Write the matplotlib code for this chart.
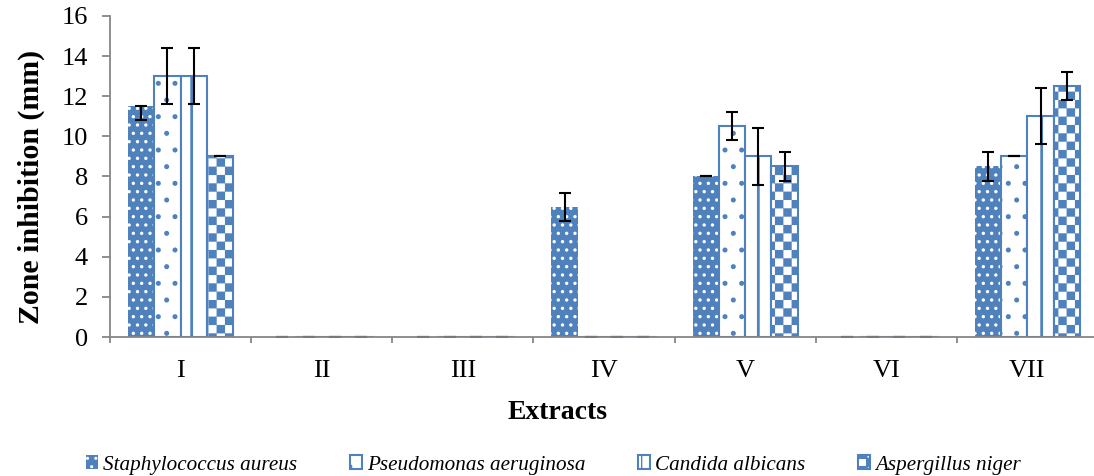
import numpy as np
import matplotlib
matplotlib.use("Agg")
import matplotlib.pyplot as plt
import matplotlib.hatch as mhatch
from matplotlib.path import Path

# Data
extracts = ["I", "II", "III", "IV", "V", "VI", "VII"]
species = ["Staphylococcus aureus", "Pseudomonas aeruginosa", "Candida albicans", "Aspergillus niger"]

staph = [11.5, 0, 0, 6.5, 8.0, 0, 8.5]
pseudo = [13.0, 0, 0, 0, 10.5, 0, 9.0]
candida = [13.0, 0, 0, 0, 9.0, 0, 11.0]
asper = [9.0, 0, 0, 0, 8.5, 0, 12.5]

staph_err_lo = [0.7, 0, 0, 0.7, 0.0, 0, 0.7]
staph_err_hi = [0.0, 0, 0, 0.7, 0.0, 0, 0.7]
pseudo_err = [1.4, 0, 0, 0, 0.7, 0, 0.0]
candida_err = [1.4, 0, 0, 0, 1.4, 0, 1.4]
asper_err = [0.0, 0, 0, 0, 0.7, 0, 0.7]

BLUE = "#4F81BD"
GRAY = "#868686"


# '*' hatch -> checkerboard (Excel "large checker board" look)
class CheckerHatch(mhatch.HatchPatternBase):
    def __init__(self, hatch, density):
        self.n = hatch.count("*") * 2 * density
        self.num_vertices = (self.n * self.n // 2) * 5

    def set_vertices_and_codes(self, vertices, codes):
        n = self.n
        s = 1.0 / n
        k = 0
        for i in range(n):
            for j in range(n):
                if (i + j) % 2:
                    continue
                x0, y0 = i * s, j * s
                vertices[k:k + 5] = [[x0, y0], [x0 + s, y0], [x0 + s, y0 + s], [x0, y0 + s], [x0, y0]]
                codes[k:k + 5] = [Path.MOVETO, Path.LINETO, Path.LINETO, Path.LINETO, Path.CLOSEPOLY]
                k += 5


mhatch._hatch_types[mhatch._hatch_types.index(mhatch.Stars)] = CheckerHatch

plt.rcParams["font.family"] = ["Liberation Serif", "DejaVu Serif"]

fig = plt.figure(figsize=(10.94, 4.76), dpi=100)
ax = fig.add_axes([110 / 1094, 139 / 476, 988 / 1094, 321 / 476])

x = np.arange(len(extracts))
w = 0.186
err_kw = dict(ecolor="black", elinewidth=1.5, capsize=4.2, capthick=1.5)

with plt.rc_context({"hatch.linewidth": 1.2}):
    b1 = ax.bar(x - 1.5 * w, staph, w, color=BLUE, edgecolor="white", linewidth=0,
                hatch="..", label=species[0],
                yerr=[staph_err_lo, staph_err_hi], error_kw=err_kw)
with plt.rc_context({"hatch.linewidth": 1.2}):
    b2 = ax.bar(x - 0.5 * w, pseudo, w, color="white", edgecolor=BLUE, linewidth=1.5,
                hatch=".", label=species[1], yerr=pseudo_err, error_kw=err_kw)
with plt.rc_context({"hatch.linewidth": 2.0}):
    b3 = ax.bar(x + 0.5 * w, candida, w, color="white", edgecolor=BLUE, linewidth=1.5,
                hatch="|", label=species[2], yerr=candida_err, error_kw=err_kw)
with plt.rc_context({"hatch.linewidth": 0.1}):
    b4 = ax.bar(x + 1.5 * w, asper, w, color="white", edgecolor=BLUE, linewidth=1.5,
                hatch="*", label=species[3], yerr=asper_err, error_kw=err_kw)

ax.set_xlim(-0.5, len(extracts) - 0.5)
ax.set_ylim(0, 16)
ax.set_yticks(range(0, 17, 2))
ax.set_xticks(x)
ax.set_xticklabels(extracts)
ax.set_xticks(np.arange(-0.5, len(extracts)), minor=True)

for side in ["top", "right"]:
    ax.spines[side].set_visible(False)
for side in ["left", "bottom"]:
    ax.spines[side].set_color(GRAY)
    ax.spines[side].set_linewidth(1.3)
    ax.spines[side].set_zorder(5)

ax.tick_params(axis="y", direction="out", length=5.8, width=1.3, color=GRAY,
               labelsize=19, pad=10)
ax.tick_params(axis="x", which="major", length=0, labelsize=19, pad=16.5)
ax.tick_params(axis="x", which="minor", direction="out", length=4.3, width=1.3, color=GRAY)

ax.set_ylabel("Zone inhibition (mm)", fontsize=21.5, fontweight="bold")
ax.yaxis.set_label_coords(-0.066, 0.467)
ax.set_xlabel("Extracts", fontsize=20, fontweight="bold")
ax.xaxis.set_label_coords(0.4534, -0.195)

leg = fig.legend(handles=[b1, b2, b3, b4], labels=species, loc="center",
                 bbox_to_anchor=(0.506, 11 / 476), ncol=4, frameon=False,
                 prop={"style": "italic", "size": 15.2},
                 handlelength=0.57, handleheight=0.62, handletextpad=0.24,
                 columnspacing=2.5, borderpad=0)

fig.savefig("out.png", dpi=100)
